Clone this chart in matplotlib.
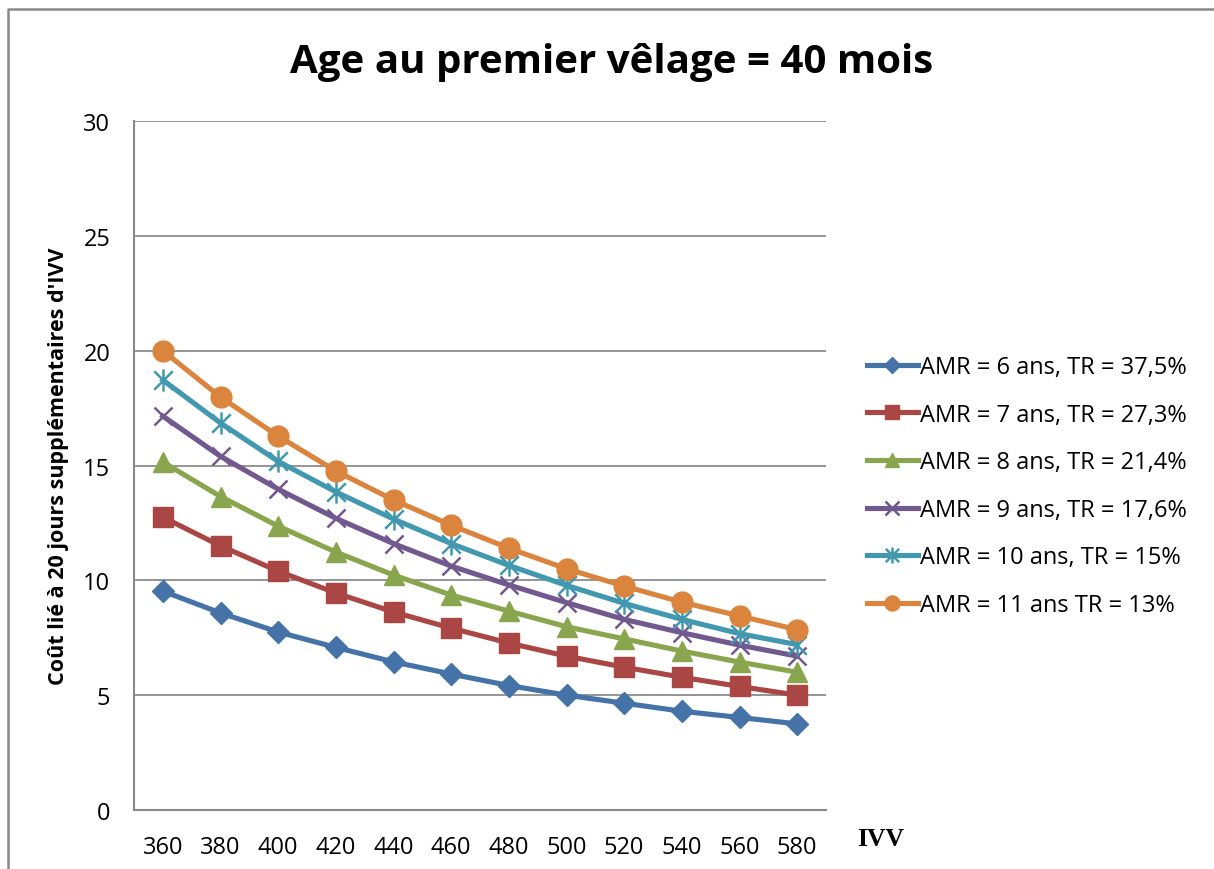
import matplotlib.pyplot as plt
from matplotlib.path import Path
from matplotlib.lines import Line2D

ivv = [360, 380, 400, 420, 440, 460, 480, 500, 520, 540, 560, 580]

amr6 = [9.53, 8.58, 7.75, 7.08, 6.45, 5.92, 5.42, 5.0, 4.65, 4.3, 4.03, 3.75]
amr7 = [12.75, 11.5, 10.4, 9.45, 8.62, 7.92, 7.27, 6.7, 6.22, 5.78, 5.38, 5.0]
amr8 = [15.15, 13.65, 12.36, 11.23, 10.23, 9.36, 8.66, 7.98, 7.45, 6.92, 6.44, 6.0]
amr9 = [17.15, 15.4, 13.97, 12.7, 11.6, 10.62, 9.8, 9.03, 8.3, 7.72, 7.18, 6.7]
amr10 = [18.72, 16.85, 15.18, 13.85, 12.67, 11.6, 10.65, 9.78, 9.0, 8.3, 7.68, 7.2]
amr11 = [20.0, 17.98, 16.28, 14.76, 13.5, 12.4, 11.4, 10.5, 9.75, 9.05, 8.45, 7.85]

labels = ['AMR = 6 ans, TR = 37,5%', 'AMR = 7 ans, TR = 27,3%', 'AMR = 8 ans, TR = 21,4%',
          'AMR = 9 ans, TR = 17,6%', 'AMR = 10 ans, TR = 15%', 'AMR = 11 ans TR = 13%']

colors = ['#4572A7', '#AA4643', '#89A54E', '#71588F', '#4198AF', '#DB843D']

# asterisk marker like Excel's (x with a vertical bar)
star = Path([(-1, -1), (1, 1), (-1, 1), (1, -1), (0, -1.2), (0, 1.2)],
            [Path.MOVETO, Path.LINETO, Path.MOVETO, Path.LINETO, Path.MOVETO, Path.LINETO])
markers = [('D', 11), ('s', 14), ('^', 14.5), ('x', 13.5), (star, 16), ('o', 15)]

plt.rcParams['font.family'] = ['Open Sans', 'DejaVu Sans']

fig = plt.figure(figsize=(12.14, 8.70), dpi=100)
# outer chart frame (only top and left edges visible)
fig.lines.append(Line2D([8 / 1214, 8 / 1214, 1.0], [0.0, 1 - 10 / 870, 1 - 10 / 870],
                        transform=fig.transFigure, color='#888888', linewidth=1.8))
ax = fig.add_axes([134 / 1214, 1 - 811 / 870, (826 - 134) / 1214, (811 - 122) / 870])

series = [amr6, amr7, amr8, amr9, amr10, amr11]
for k, ys in enumerate(series):
    m, ms = markers[k]
    mew = 1.8 if k in (3, 4) else 1
    ax.plot(ivv, ys, color=colors[k], linewidth=3.7, marker=m, markersize=ms,
            markeredgewidth=mew, markeredgecolor=colors[k], label=labels[k])

ax.set_xlim(350, 590)
ax.set_ylim(0, 30)
ax.set_yticks([0, 5, 10, 15, 20, 25, 30])
ax.set_xticks(ivv)
ax.tick_params(axis='x', length=0, labelsize=17, pad=18)
ax.tick_params(axis='y', length=0, labelsize=17, pad=17)
ax.grid(axis='y', color='#8c8c8c', linewidth=1.3)
ax.set_axisbelow(True)
for s in ['top', 'right']:
    ax.spines[s].set_visible(False)
for s in ['left', 'bottom']:
    ax.spines[s].set_color('#888888')
    ax.spines[s].set_linewidth(1.5)

ax.set_ylabel("Coût lié à 20 jours supplémentaires d'IVV", fontsize=15.5, fontweight='bold', labelpad=10)
fig.text(881 / 1214, 1 - 840 / 870, 'IVV', family='Liberation Serif', fontweight='bold',
         fontsize=18.5, ha='center', va='center')
fig.suptitle('Age au premier vêlage = 40 mois', x=612 / 1214, y=1 - 62 / 870,
             fontsize=29, fontweight='bold', va='center')

ax.legend(loc='center left', bbox_to_anchor=(855 / 1214, 1 - 487 / 870), bbox_transform=fig.transFigure,
          frameon=False, fontsize=17, handlelength=2.15, handletextpad=0.1, labelspacing=1.0,
          borderpad=0, markerscale=0.72)

fig.savefig('out.png', dpi=100)
